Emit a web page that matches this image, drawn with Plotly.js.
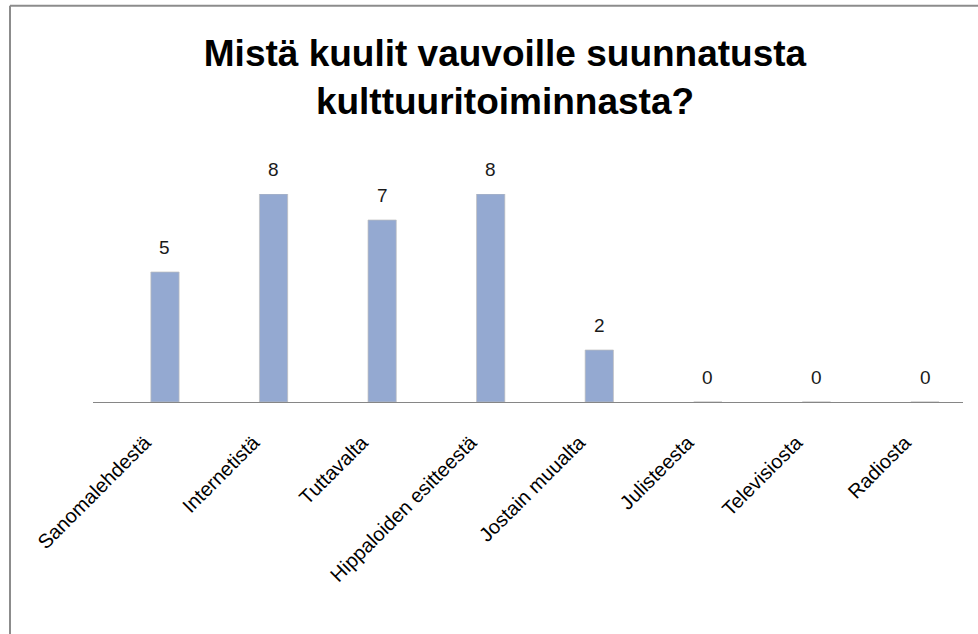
<!DOCTYPE html>
<html>
<head>
<meta charset="utf-8">
<script src="https://cdn.plot.ly/plotly-3.0.1.min.js"></script>
<style>html,body{margin:0;padding:0;background:#fff;}#chart{width:978px;height:634px;}</style>
</head>
<body>
<div id="chart"></div>
<script>
const categories = ["Sanomalehdestä", "Internetistä", "Tuttavalta", "Hippaloiden esitteestä", "Jostain muualta", "Julisteesta", "Televisiosta", "Radiosta"];
const values = [5, 8, 7, 8, 2, 0, 0, 0];
const titleText = "Mistä kuulit vauvoille suunnatusta<br>kulttuuritoiminnasta?";

const FONT = "Liberation Sans, Arial, sans-serif";

const trace = {
  type: "bar",
  x: categories,
  y: values,
  width: 0.26,
  marker: { color: "#94a9d1", line: { color: "rgba(190,190,190,0.7)", width: 1 } },
  hoverinfo: "none"
};

const annotations = categories.map((c, i) => ({
  x: c, y: values[i], xref: "x", yref: "y",
  text: String(values[i]), showarrow: false,
  yanchor: "bottom", yshift: 12,
  font: { family: FONT, size: 19, color: "#1a1a1a" }
}));

const layout = {
  width: 978, height: 634,
  margin: { l: 93, r: 15, t: 194, b: 232 },
  paper_bgcolor: "#ffffff", plot_bgcolor: "#ffffff",
  showlegend: false,
  title: {
    text: titleText,
    x: 505 / 978, xanchor: "center", xref: "container",
    y: 1 - 66 / 634, yanchor: "top", yref: "container",
    font: { family: FONT, size: 37, color: "#000000", weight: "bold" }
  },
  xaxis: {
    type: "category",
    range: [-0.663, 7.35],
    automargin: false,
    showline: true, linecolor: "#868686", linewidth: 1,
    showgrid: false, zeroline: false,
    ticks: "", tickangle: -45,
    ticklabelstandoff: 20, ticklabelshift: -20,
    tickfont: { family: FONT, size: 20, color: "#000000" }
  },
  yaxis: {
    range: [0, 8],
    visible: false, showgrid: false, zeroline: false
  },
  annotations: annotations,
  shapes: [
    { type: "line", xref: "paper", yref: "paper", x0: -0.0954, x1: -0.0954, y0: -1.5, y1: 1.905,
      line: { color: "#8c8c8c", width: 2 } },
    { type: "line", xref: "paper", yref: "paper", x0: -0.0954, x1: 1.1, y0: 1.905, y1: 1.905,
      line: { color: "#8c8c8c", width: 2 } }
  ]
};

Plotly.newPlot("chart", [trace], layout, { displayModeBar: false, staticPlot: true });
</script>
</body>
</html>
